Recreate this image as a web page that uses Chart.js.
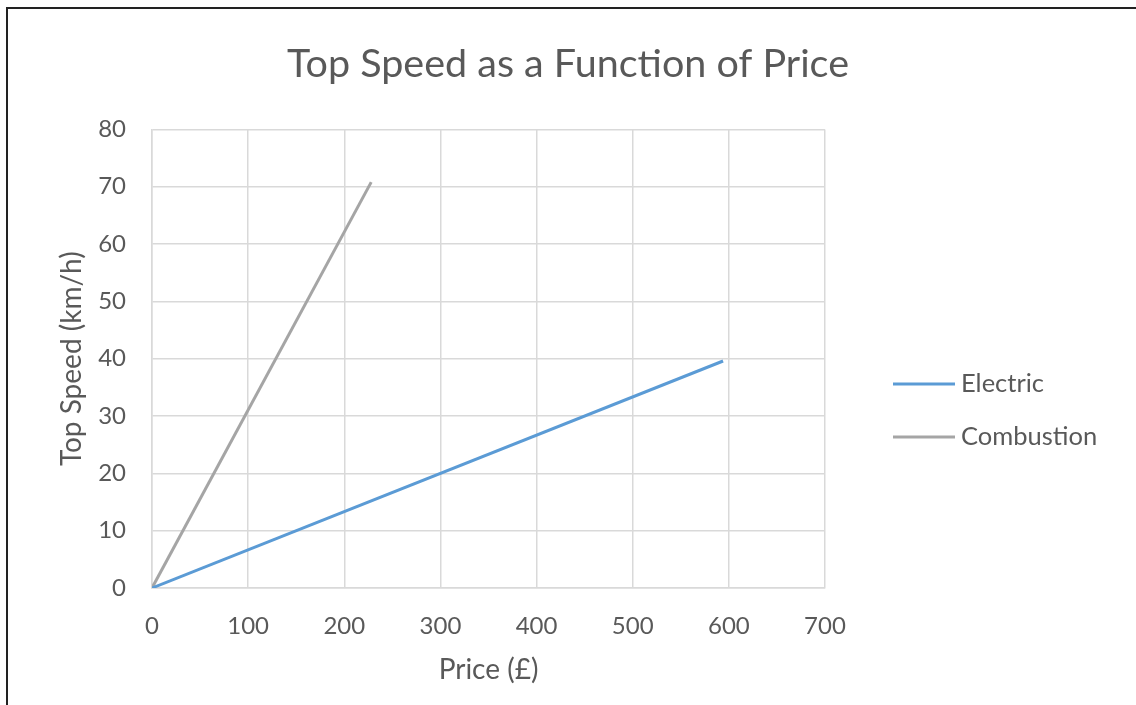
<html lang="en">
<head>
    <meta charset="UTF-8">
    <title>Top Speed as a Function of Price</title>
    <style>
        html, body { margin: 0; padding: 0; background: #fff; overflow: hidden; }
        #wrap { position: relative; width: 1136px; height: 705px; }
        #frame { position: absolute; left: 6px; top: 7px; width: 1140px; height: 710px;
                 border-left: 2px solid #222; border-top: 2px solid #222; pointer-events: none; }
    </style>
</head>
<body>
<div id="wrap">
    <canvas id="speedChart" width="1136" height="705"></canvas>
    <div id="frame"></div>
</div>
<script src="https://cdn.jsdelivr.net/npm/chart.js@4.4.1/dist/chart.umd.min.js"></script>
<script>
    // values
    const seriesNames = ["Electric", "Combustion"];
    const electricPrice = [0, 594];
    const electricSpeed = [0, 39.6];
    const combustionPrice = [0, 228];
    const combustionSpeed = [0, 70.8];
    const xTicks = [0, 100, 200, 300, 400, 500, 600, 700];
    const yTicks = [0, 10, 20, 30, 40, 50, 60, 70, 80];

    const textGrey = '#595959';
    const gridGrey = '#d9d9d9';
    const fontName = 'Lato, "Open Sans", sans-serif';

    function toPoints(xs, ys) {
        return xs.map((x, i) => ({x: x, y: ys[i]}));
    }

    // legend drawn by hand, Excel style: line sample then label
    const sideLegend = {
        id: 'sideLegend',
        afterDraw(chart) {
            const ctx = chart.ctx;
            const x0 = chart.chartArea.right + 68;
            ctx.save();
            ctx.font = '25.5px ' + fontName;
            ctx.textBaseline = 'middle';
            chart.data.datasets.forEach((ds, i) => {
                const y = 384 + i * 53;
                ctx.strokeStyle = ds.borderColor;
                ctx.lineWidth = 3;
                ctx.beginPath();
                ctx.moveTo(x0, y);
                ctx.lineTo(x0 + 62, y);
                ctx.stroke();
                ctx.fillStyle = textGrey;
                ctx.fillText(ds.label, x0 + 68, y);
            });
            ctx.restore();
        }
    };

    let ctx = document.getElementById("speedChart").getContext("2d");
    let speedChart = new Chart(ctx, {
        type: "scatter",
        data: {
            datasets: [{
                label: seriesNames[0],
                data: toPoints(electricPrice, electricSpeed),
                borderColor: '#5b9bd5',
                backgroundColor: '#5b9bd5',
                borderWidth: 3,
                showLine: true,
                pointRadius: 0
            }, {
                label: seriesNames[1],
                data: toPoints(combustionPrice, combustionSpeed),
                borderColor: '#a5a5a5',
                backgroundColor: '#a5a5a5',
                borderWidth: 3,
                showLine: true,
                pointRadius: 0
            }]
        },
        options: {
            responsive: false,
            animation: false,
            layout: { padding: 0 },
            plugins: {
                legend: { display: false },
                tooltip: { enabled: false },
                title: {
                    display: true,
                    text: "Top Speed as a Function of Price",
                    color: textGrey,
                    font: { family: fontName, size: 39.5, weight: 'normal' },
                    padding: { top: 41, bottom: 41 }
                }
            },
            scales: {
                x: {
                    type: 'linear',
                    min: xTicks[0],
                    max: xTicks[xTicks.length - 1],
                    afterBuildTicks: axis => { axis.ticks = xTicks.map(v => ({value: v})); },
                    afterFit: axis => { axis.height = 117; },
                    grid: { color: gridGrey, lineWidth: 1.5, drawTicks: false },
                    border: { color: gridGrey, width: 1.5 },
                    ticks: { color: textGrey, padding: 24, font: { family: fontName, size: 24 } },
                    title: {
                        display: true, text: "Price (£)", color: textGrey,
                        font: { family: fontName, size: 28 },
                        padding: { top: 0, bottom: 18 }
                    }
                },
                y: {
                    min: yTicks[0],
                    max: yTicks[yTicks.length - 1],
                    afterBuildTicks: axis => { axis.ticks = yTicks.map(v => ({value: v})); },
                    afterFit: axis => { axis.width = 152; },
                    grid: { color: gridGrey, lineWidth: 1.5, drawTicks: false },
                    border: { color: gridGrey, width: 1.5 },
                    ticks: { color: textGrey, padding: 26, font: { family: fontName, size: 24 } },
                    title: {
                        display: true, text: "Top Speed (km/h)", color: textGrey,
                        font: { family: fontName, size: 28 },
                        padding: { top: 55, bottom: 0 }
                    }
                },
                // empty right-hand axis that keeps room for the legend
                legendSpace: {
                    type: 'linear',
                    position: 'right',
                    display: true,
                    grid: { display: false },
                    border: { display: false },
                    ticks: { display: false },
                    afterFit: axis => { axis.width = 311; }
                }
            }
        },
        plugins: [sideLegend]
    });
</script>
</body>
</html>
